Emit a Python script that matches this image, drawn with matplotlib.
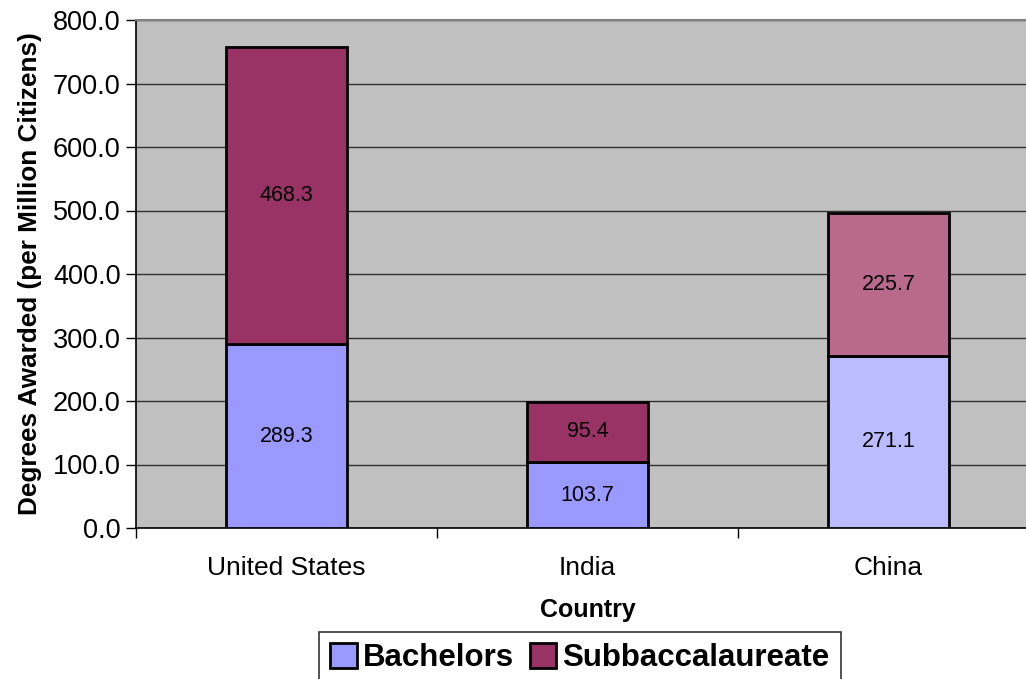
import numpy as np
import matplotlib.pyplot as plt
from matplotlib.patches import Patch

plt.rcParams['font.family'] = ['Liberation Sans', 'DejaVu Sans']

countries = ['United States', 'India', 'China']
bachelors = [289.3, 103.7, 271.1]
subbacc = [468.3, 95.4, 225.7]

# China bars are drawn a bit lighter in the original
bach_colors = ['#9999FF', '#9999FF', '#BBBBFF']
sub_colors = ['#993366', '#993366', '#B8698C']

fig = plt.figure(figsize=(10.26, 6.79), dpi=100)
ax = fig.add_axes([136 / 1026, 1 - 528 / 679, 903 / 1026, 508 / 679])
ax.set_facecolor('#C0C0C0')

x = np.arange(len(countries))
ax.bar(x, bachelors, width=0.4, color=bach_colors, edgecolor='black', linewidth=2, zorder=3)
ax.bar(x, subbacc, width=0.4, bottom=bachelors, color=sub_colors, edgecolor='black', linewidth=2, zorder=3)

for i in range(len(countries)):
    ax.text(x[i], bachelors[i] / 2, f'{bachelors[i]:.1f}', ha='center', va='center', fontsize=15.5, zorder=4)
    ax.text(x[i], bachelors[i] + subbacc[i] / 2, f'{subbacc[i]:.1f}', ha='center', va='center', fontsize=15.5, zorder=4)

ax.set_xlim(-0.5, 2.5)
ax.set_ylim(0, 800)
ax.set_yticks(np.arange(0, 801, 100))
ax.set_yticklabels([f'{v:.1f}' for v in np.arange(0, 801, 100)], fontsize=19.5)
ax.yaxis.grid(True, color='#303030', linewidth=1)
ax.set_axisbelow(True)

ax.set_xticks(x)
ax.set_xticklabels(countries, fontsize=19)
ax.set_xticks([-0.5, 0.5, 1.5, 2.5], minor=True)
ax.tick_params(axis='x', which='major', length=0, pad=20)
ax.tick_params(axis='x', which='minor', length=7, width=1)
ax.tick_params(axis='y', length=7, width=1, pad=4)

for s in ['top', 'right']:
    ax.spines[s].set_color('#808080')
    ax.spines[s].set_linewidth(1.5)
ax.spines['left'].set_linewidth(1.2)
ax.spines['bottom'].set_linewidth(1.2)

ax.set_xlabel('Country', fontsize=18, fontweight='bold', labelpad=13)
ax.set_ylabel('Degrees Awarded (per Million Citizens)', fontsize=18.8, fontweight='bold', labelpad=8)

handles = [Patch(facecolor='#9999FF', edgecolor='black', linewidth=2),
           Patch(facecolor='#993366', edgecolor='black', linewidth=2)]
leg = fig.legend(handles, ['Bachelors', 'Subbaccalaureate'], loc='upper center',
                 bbox_to_anchor=(580 / 1026, 1 - 632 / 679), ncol=2, frameon=True,
                 fancybox=False, edgecolor='black', prop={'size': 22.5, 'weight': 'bold'},
                 handlelength=0.85, handleheight=0.85, handletextpad=0.2, columnspacing=0.5,
                 borderpad=0.35, borderaxespad=0)
leg.get_frame().set_linewidth(1.2)

fig.savefig('out.png', dpi=100)
